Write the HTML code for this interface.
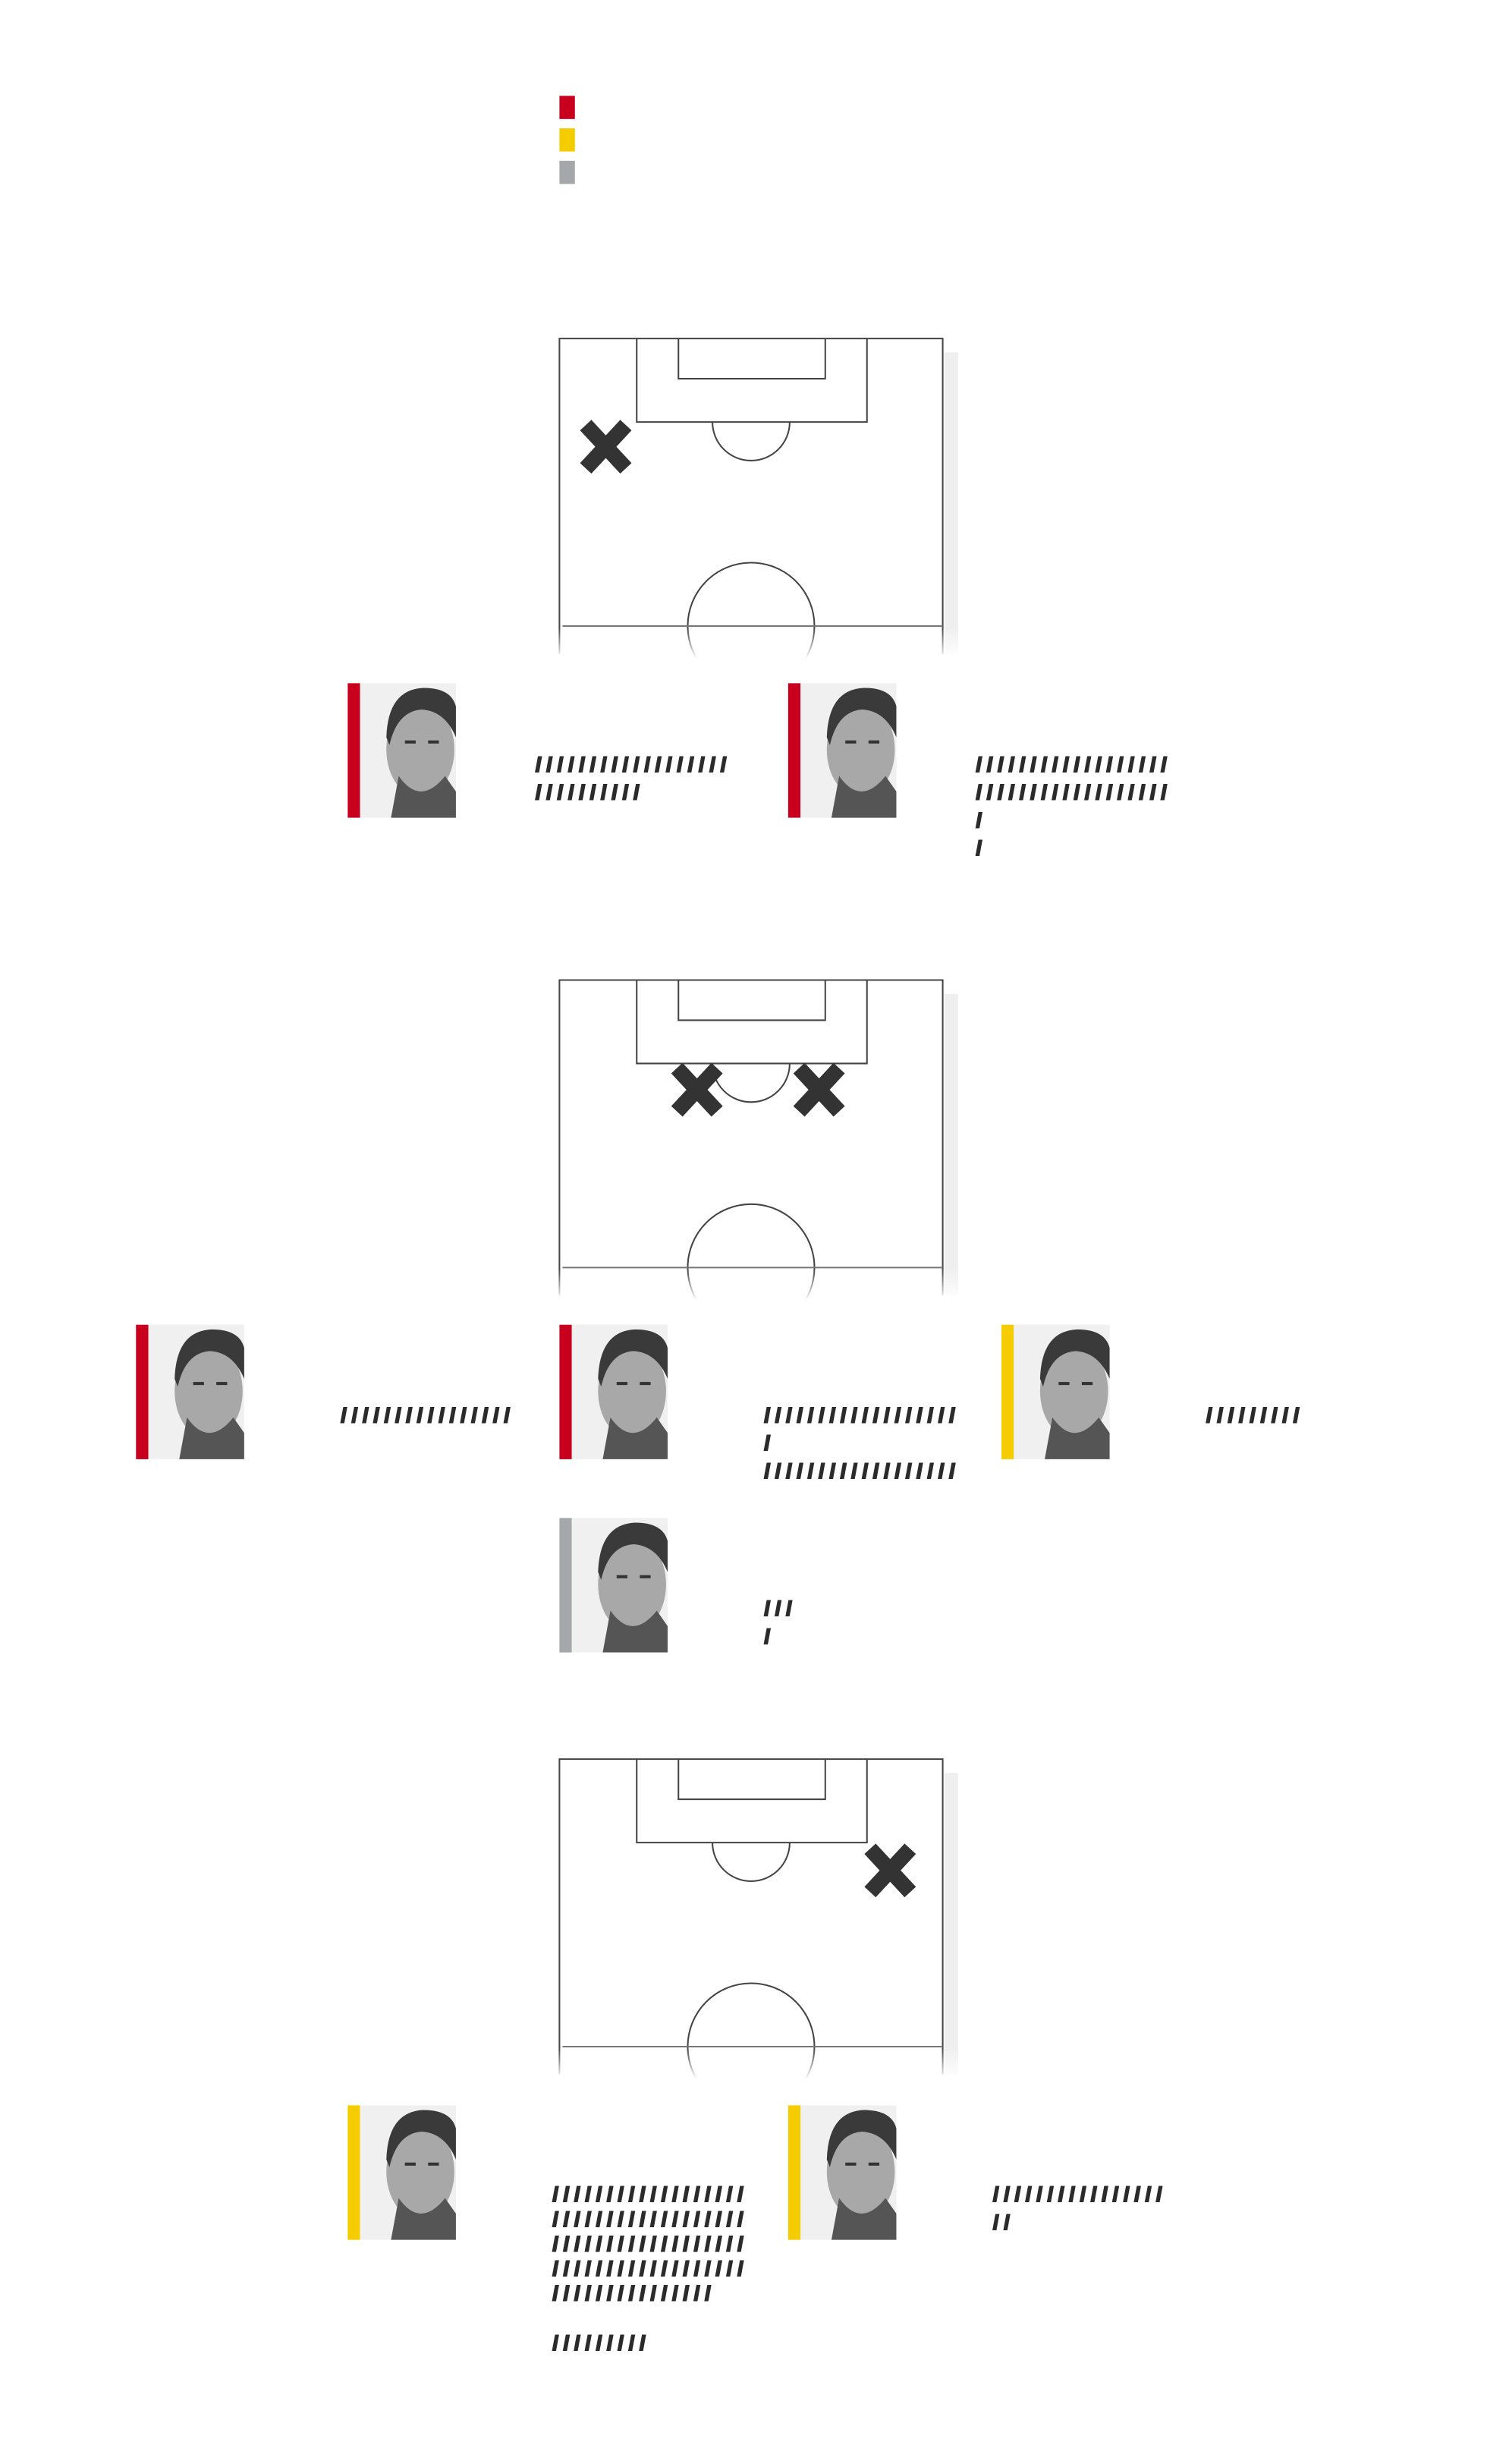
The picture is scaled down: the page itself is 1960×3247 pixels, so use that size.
<!DOCTYPE html>
<html><head><meta charset="utf-8"><style>
body{margin:0;background:#fff;width:1960px;height:3188px;position:relative;overflow:hidden}
#w{position:absolute;left:0;top:0;width:1960px;height:3188px;transform:scale(1.0185);transform-origin:0 0}
.t{position:absolute;font-family:"Liberation Sans",sans-serif;font-weight:bold;font-size:28px;line-height:36px;color:#2b2b2b;letter-spacing:6.3px;white-space:pre;text-shadow:1px 0 #2b2b2b,2px 0 #2b2b2b}
.t.s{line-height:32px}
</style></head><body><div id="w">
<svg width="1960" height="3188" style="position:absolute;left:0;top:0">
<defs>
<linearGradient id="fade" x1="0" y1="0" x2="0" y2="1"><stop offset="0" stop-color="#fff" stop-opacity="0"/><stop offset="0.45" stop-color="#fff" stop-opacity="1"/><stop offset="1" stop-color="#fff" stop-opacity="1"/></linearGradient>
<g id="pitch">
<rect x="1222" y="456" width="18" height="390" fill="#efefef"/>
<path d="M724 846 V438 H1220 V846" fill="#fff" stroke="#444" stroke-width="2"/>
<path d="M824 438 V546 H1122 V438" fill="none" stroke="#444" stroke-width="2"/>
<path d="M878 438 V490 H1068 V438" fill="none" stroke="#444" stroke-width="2"/>
<path d="M922 546 A50 50 0 0 0 1022 546" fill="none" stroke="#444" stroke-width="2"/>
<circle cx="972" cy="810" r="82" fill="none" stroke="#444" stroke-width="2"/>
<line x1="728" y1="810" x2="1220" y2="810" stroke="#777" stroke-width="2"/>
<rect x="718" y="812" width="528" height="90" fill="url(#fade)"/>
</g>
<g id="x"><g stroke="#333" stroke-width="20"><line x1="-26" y1="-28" x2="26" y2="28"/><line x1="26" y1="-28" x2="-26" y2="28"/></g></g>
<g id="face">
<rect x="0" y="0" width="124" height="174" fill="#f0f0f0"/>
<ellipse cx="78" cy="86" rx="44" ry="62" fill="#a8a8a8"/>
<path d="M34 70 Q36 8 82 6 Q118 6 124 30 V70 Q110 36 80 34 Q48 36 38 80Z" fill="#3a3a3a"/>
<path d="M50 120 Q78 160 110 120 L124 140 V174 H40Z" fill="#555"/>
<rect x="58" y="74" width="14" height="4" fill="#333"/><rect x="88" y="74" width="14" height="4" fill="#333"/>
</g>
</defs>
<rect x="724" y="124" width="20" height="30" fill="#c8001e"/>
<rect x="724" y="166" width="20" height="30" fill="#f5cc00"/>
<rect x="724" y="208" width="20" height="30" fill="#a5a8aa"/>
<use href="#pitch"/>
<use href="#pitch" transform="translate(0,830)"/>
<use href="#pitch" transform="translate(0,1838)"/>
<use href="#x" transform="translate(784,578)"/>
<use href="#x" transform="translate(902,1410)"/>
<use href="#x" transform="translate(1060,1410)"/>
<use href="#x" transform="translate(1152,2420)"/>
<rect x="450" y="884" width="16" height="174" fill="#c8001e"/><use href="#face" transform="translate(466,884)"/>
<rect x="1020" y="884" width="16" height="174" fill="#c8001e"/><use href="#face" transform="translate(1036,884)"/>
<rect x="176" y="1714" width="16" height="174" fill="#c8001e"/><use href="#face" transform="translate(192,1714)"/>
<rect x="724" y="1714" width="16" height="174" fill="#c8001e"/><use href="#face" transform="translate(740,1714)"/>
<rect x="1296" y="1714" width="16" height="174" fill="#f5cc00"/><use href="#face" transform="translate(1312,1714)"/>
<rect x="724" y="1964" width="16" height="174" fill="#a5a8aa"/><use href="#face" transform="translate(740,1964)"/>
<rect x="450" y="2724" width="16" height="174" fill="#f5cc00"/><use href="#face" transform="translate(466,2724)"/>
<rect x="1020" y="2724" width="16" height="174" fill="#f5cc00"/><use href="#face" transform="translate(1036,2724)"/>
</svg>
<div class="t" style="left:692px;top:972px">//////////////////
//////////</div>
<div class="t" style="left:1262px;top:972px">//////////////////
//////////////////
/
/</div>
<div class="t" style="left:440px;top:1814px">////////////////</div>
<div class="t" style="left:988px;top:1814px">//////////////////
/
//////////////////</div>
<div class="t" style="left:1560px;top:1814px">/////////</div>
<div class="t" style="left:988px;top:2064px">///
/</div>
<div class="t s" style="left:714px;top:2824px">//////////////////
//////////////////
//////////////////
//////////////////
///////////////

/////////</div>
<div class="t" style="left:1284px;top:2822px">////////////////
//</div>
</div></body></html>
